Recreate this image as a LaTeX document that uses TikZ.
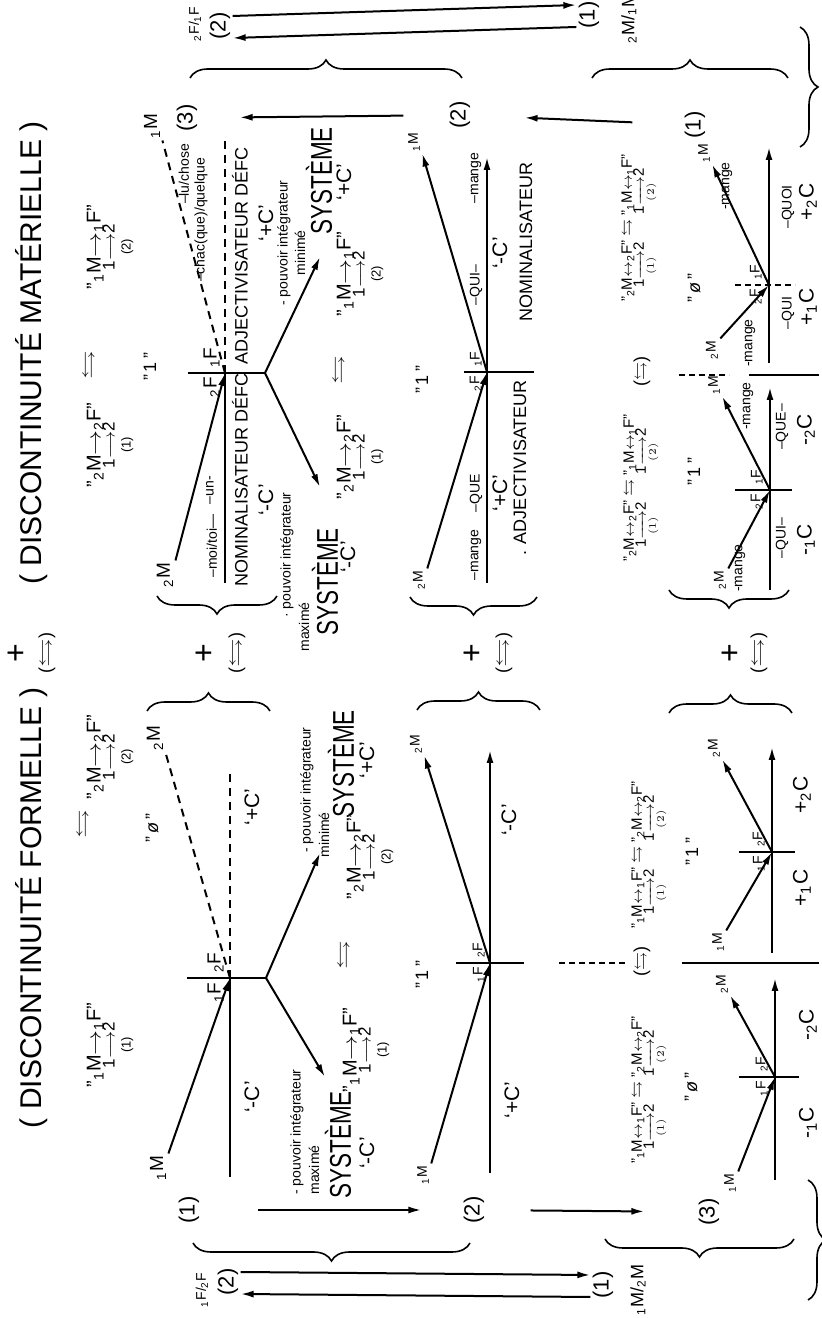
\documentclass[tikz,border=0pt]{standalone}
\usepackage{amsmath,amssymb}
\usepackage{fontspec}
\setmainfont{Liberation Sans}
\usetikzlibrary{calc,arrows.meta,decorations.pathreplacing,positioning}

\newcommand{\Mf}[1]{\textsubscript{#1}M}
\newcommand{\Ff}[1]{\textsubscript{#1}F}
\newcommand{\lr}{\scalebox{1.6}[1]{$\leftrightarrows$}}
\newcommand{\syst}{\scalebox{0.75}[1]{SYSTÈME}}
\newcommand{\rel}[3]{"\Mf{#1}\scalebox{1.25}[1]{$\rightarrow$}\Ff{#2}"\\[-3pt]{\fontsize{8.5}{8.5}\selectfont 1$\longrightarrow$2}\\[-2pt]{\fontsize{6.5}{6.5}\selectfont (#3)}}
\newcommand{\relb}[2]{"\Mf{#1}$\leftrightarrow$\Ff{#1}" $\leftrightarrows$ "\Mf{#2}$\leftrightarrow$\Ff{#2}"\\[-2pt]
  1$\xrightarrow[(1)]{}$2\hspace{14pt}1$\xrightarrow[(2)]{}$2}

\tikzset{
  every node/.style={inner sep=1pt},
  ttl/.style={font=\fontsize{15}{15}\selectfont},
  sys/.style={font=\fontsize{15}{15}\selectfont},
  cat/.style={font=\fontsize{9}{9}\selectfont},
  sml/.style={font=\fontsize{7}{7}\selectfont},
  cv/.style={font=\fontsize{10.5}{11}\selectfont},
  num/.style={font=\fontsize{11}{11}\selectfont},
  val/.style={font=\fontsize{9}{9}\selectfont},
  pls/.style={font=\fontsize{16}{16}\selectfont},
  fml/.style={align=center, font=\fontsize{10}{10}\selectfont},
  fmlb/.style={align=center, font=\fontsize{7.5}{8}\selectfont},
  mlab/.style={font=\fontsize{9.5}{10}\selectfont},
  ax/.style={line width=1pt},
  arr/.style={ax, -{Latex[length=6.5pt,width=3.5pt]}},
  dsh/.style={ax, dash pattern=on 4pt off 3pt},
  brc/.style={decorate, decoration={brace, amplitude=9pt}, line width=0.8pt},
}

\begin{document}
\begin{tikzpicture}[x=0.5pt,y=0.5pt,rotate=90,transform shape]
\useasboundingbox (0,0) rectangle (1318,822);

% titles
\node[ttl] (tF) at (410,790) {( DISCONTINUITÉ FORMELLE )};
\node[ttl] (tM) at (965,790) {( DISCONTINUITÉ MATÉRIELLE )};
\node[pls] (p0) at (665,805) {+};
\node[val] (q0) at (665,775) {(\lr)};
\node[pls] (p1) at (665,617) {+};
\node[val] (q1) at (665,585) {(\lr)};
\node[pls] (p2) at (665,349) {+};
\node[val] (q2) at (665,318) {(\lr)};
\node[pls] (p3) at (665,91) {+};
\node[val] (q3) at (665,63) {(\lr)};

% ---- row 1, formelle
\coordinate (o1F) at (340,592);
\node[fml] (r1Fa) at (273,712) {\rel{1}{1}{1}};
\node[val] (x1F) at (494,738) {\lr};
\node[fml] (r1Fb) at (561,712) {\rel{2}{2}{2}};
\node[val] (z1F) at (490,670) {"\,\textit{\o}\,"};
\node[mlab] (m1Fa) at (150,664) {\Mf1};
\node[mlab] (m1Fb) at (580,667) {\Mf2};
\node[mlab, anchor=south east] (f1Fa) at (338,596) {\Ff1};
\node[mlab, anchor=south west] (f1Fb) at (343,596) {\Ff2};
\coordinate (t1F) at (340,635);
\coordinate (v1F) at (340,556);
\coordinate (s1F) at (141,592);
\coordinate (e1F) at (548,592);
\draw[ax] (t1F) -- (v1F);
\draw[ax] (s1F) -- (o1F);
\draw[arr] (m1Fa.south east) -- (o1F);
\draw[dsh] (o1F) -- (m1Fb.south west);
\draw[dsh] (o1F) -- (e1F);
\node[cv] (c1Fa) at (221,570) {‘-C’};
\node[cv] (c1Fb) at (511,570) {‘+C’};

\node[sml] (g1Fa) at (186,525) {- pouvoir intégrateur};
\node[sml] (h1Fa) at (148,508) {maximé};
\node[sys] (y1Fa) at (173,484) {\syst};
\node[cv] (k1Fa) at (165,455) {‘-C’};
\node[fml] (r1Fc) at (268,456) {\rel{1}{1}{1}};
\node[val] (x1Fc) at (363,477) {\lr};
\node[fml] (r1Fd) at (461,452) {\rel{2}{2}{2}};
\node[sml] (g1Fb) at (528,515) {- pouvoir intégrateur};
\node[sml] (h1Fb) at (483,498) {minimé};
\node[sys] (y1Fb) at (554,481) {\syst};
\node[cv] (k1Fb) at (558,455) {‘+C’};
\coordinate (a1Fa) at (241,497);
\coordinate (a1Fb) at (465,502);
\draw[arr] (v1F) -- (a1Fa);
\draw[arr] (v1F) -- (a1Fb);

% ---- row 1, materielle
\coordinate (o1M) at (945,597);
\node[fml] (r1Ma) at (873,712) {\rel{2}{2}{1}};
\node[val] (x1M) at (953,732) {\lr};
\node[fml] (r1Mb) at (1071,712) {\rel{1}{1}{2}};
\node[val] (z1M) at (951,672) {"\,1\,"};
\node[mlab] (m1Ma) at (743,657) {\Mf2};
\node[mlab] (m1Mb) at (1192,670) {\Mf1};
\node[mlab, anchor=south east] (f1Ma) at (943,600) {\Ff2};
\node[mlab, anchor=south west] (f1Mb) at (948,600) {\Ff1};
\coordinate (t1M) at (945,634);
\coordinate (v1M) at (945,557);
\coordinate (s1M) at (735,597);
\coordinate (e1M) at (1180,597);
\draw[ax] (t1M) -- (v1M);
\draw[ax] (s1M) -- (o1M);
\draw[arr] (m1Ma.south east) -- (o1M);
\draw[dsh] (o1M) -- (m1Mb.south west);
\draw[dsh] (o1M) -- (e1M);
\node[sml] (u1Ma) at (772,610) {--moi/toi—};
\node[sml] (u1Mb) at (828,612) {--un-};
\node[sml] (u1Mc) at (1098,621) {--chac(que)/quelque};
\node[sml] (u1Md) at (1144,638) {--lu/chose};
\node[cat] (n1M) at (838,582) {NOMINALISATEUR DÉFC};
\node[cat] (d1M) at (1062,582) {ADJECTIVISATEUR DÉFC};
\node[cv] (c1Ma) at (818,556) {‘-C’};
\node[cv] (c1Mb) at (1095,556) {‘+C’};

\node[sml] (g1Ma) at (763,535) {· pouvoir intégrateur};
\node[sml] (h1Ma) at (691,518) {maximé};
\node[sys] (y1Ma) at (736,497) {\syst};
\node[cv] (k1Ma) at (761,474) {‘-C’};
\node[fml] (r1Mc) at (861,462) {\rel{2}{2}{1}};
\node[val] (x1Mc) at (948,482) {\lr};
\node[fml] (r1Md) at (1044,462) {\rel{1}{1}{2}};
\node[sml] (g1Mb) at (1075,538) {- pouvoir intégrateur};
\node[sml] (h1Mb) at (1065,522) {minimé};
\node[sys] (y1Mb) at (1137,503) {\syst};
\node[cv] (k1Mb) at (1136,478) {‘+C’};
\coordinate (a1Ma) at (831,502);
\coordinate (a1Mb) at (1061,502);
\draw[arr] (v1M) -- (a1Ma);
\draw[arr] (v1M) -- (a1Mb);

% ---- row 2, formelle
\coordinate (o2F) at (355,332);
\node[val] (z2F) at (343,400) {"\,1\,"};
\node[sml, anchor=south east] (f2Fa) at (353,335) {\Ff1};
\node[sml, anchor=south west] (f2Fb) at (358,335) {\Ff2};
\node[sml] (m2Fa) at (143,399) {\Mf1};
\node[sml] (m2Fb) at (574,406) {\Mf2};
\coordinate (t2F) at (355,366);
\coordinate (v2F) at (355,298);
\coordinate (s2F) at (145,332);
\coordinate (e2F) at (568,332);
\draw[ax] (t2F) -- (v2F);
\draw[ax] (s2F) -- (o2F);
\draw[arr] (m2Fa.south east) -- (o2F);
\draw[arr] (o2F) -- (m2Fb.south west);
\draw[arr] (o2F) -- (e2F);
\node[cv] (c2Fa) at (218,310) {‘+C’};
\node[cv] (c2Fb) at (498,313) {‘-C’};

% ---- row 2, materielle
\coordinate (o2M) at (946,335);
\node[val] (z2M) at (938,400) {"\,1\,"};
\node[sml, anchor=south east] (f2Ma) at (944,338) {\Ff2};
\node[sml, anchor=south west] (f2Mb) at (949,338) {\Ff1};
\node[sml] (m2Ma) at (738,403) {\Mf2};
\node[sml] (m2Mb) at (1176,408) {\Mf1};
\coordinate (t2M) at (946,358);
\coordinate (v2M) at (946,288);
\coordinate (s2M) at (735,335);
\coordinate (e2M) at (1161,335);
\draw[ax] (t2M) -- (v2M);
\draw[ax] (s2M) -- (o2M);
\draw[arr] (m2Ma.south east) -- (o2M);
\draw[arr] (o2M) -- (m2Mb.south west);
\draw[arr] (o2M) -- (e2M);
\node[sml] (u2Ma) at (763,346) {--mange};
\node[sml] (u2Mb) at (825,346) {--QUE};
\node[sml] (u2Mc) at (1033,346) {--QUI--};
\node[sml] (u2Md) at (1140,346) {--mange};
\node[cv] (c2Ma) at (825,322) {‘+C’};
\node[cv] (c2Mb) at (1065,322) {‘-C’};
\node[cat] (d2M) at (850,302) {. ADJECTIVISATEUR};
\node[cat] (n2M) at (1076,296) {NOMINALISATEUR};

% ---- row 3, formelle
\node[fmlb] (r3Fa) at (228,172) {\relb{1}{2}};
\node[fmlb] (r3Fb) at (463,172) {\relb{1}{2}};
\node[val] (x3F) at (356,180) {($\leftrightarrows$)};
\node[val] (z3Fa) at (231,131) {"\,\textit{\o}\,"};
\node[val] (z3Fb) at (466,130) {"\,1\,"};
\coordinate (o3Fa) at (241,47);
\coordinate (o3Fb) at (466,50);
\node[sml, anchor=south east] (f3Fa) at (239,52) {\Ff1};
\node[sml, anchor=south west] (f3Fb) at (244,52) {\Ff2};
\node[sml, anchor=south east] (f3Fc) at (464,55) {\Ff1};
\node[sml, anchor=south west] (f3Fd) at (469,55) {\Ff2};
\node[sml] (m3Fa) at (135,92) {\Mf1};
\node[sml] (m3Fb) at (334,100) {\Mf2};
\node[sml] (m3Fc) at (376,104) {\Mf1};
\node[sml] (m3Fd) at (570,108) {\Mf2};
\coordinate (t3Fa) at (241,83);
\coordinate (v3Fa) at (241,23);
\coordinate (s3Fa) at (138,47);
\coordinate (e3Fa) at (340,47);
\coordinate (t3Fb) at (466,83);
\coordinate (v3Fb) at (466,27);
\coordinate (s3Fb) at (365,50);
\coordinate (e3Fb) at (571,50);
\draw[ax] (t3Fa) -- (v3Fa);
\draw[ax] (s3Fa) -- (o3Fa);
\draw[arr] (m3Fa.south east) -- (o3Fa);
\draw[arr] (o3Fa) -- (m3Fb.south west);
\draw[arr] (o3Fa) -- (e3Fa);
\draw[ax] (t3Fb) -- (v3Fb);
\draw[ax] (s3Fb) -- (o3Fb);
\draw[arr] (m3Fc.south east) -- (o3Fb);
\draw[arr] (o3Fb) -- (m3Fd.south west);
\draw[arr] (o3Fb) -- (e3Fb);
\node[cv] (c3Fa) at (195,14) {-\textsubscript{1}C};
\node[cv] (c3Fb) at (293,14) {-\textsubscript{2}C};
\node[cv] (c3Fc) at (430,20) {+\textsubscript{1}C};
\node[cv] (c3Fd) at (523,20) {+\textsubscript{2}C};
\coordinate (w3Fa) at (355,263);
\coordinate (w3Fb) at (355,197);
\coordinate (w3Fc) at (355,140);
\coordinate (w3Fd) at (355,3);
\draw[ax, densely dashed] (w3Fa) -- (w3Fb);
\draw[ax] (w3Fc) -- (w3Fd);

% ---- row 3, materielle
\node[fmlb] (r3Ma) at (830,180) {\relb{2}{1}};
\node[fmlb] (r3Mb) at (1090,182) {\relb{2}{1}};
\node[val] (x3M) at (946,180) {($\leftrightarrows$)};
\node[val] (z3Ma) at (846,128) {"\,1\,"};
\node[val] (z3Mb) at (1030,128) {"\,\textit{\o}\,"};
\coordinate (o3Ma) at (828,52);
\coordinate (o3Mb) at (1033,53);
\node[sml, anchor=south east] (f3Ma) at (826,57) {\Ff2};
\node[sml, anchor=south west] (f3Mb) at (831,57) {\Ff1};
\node[sml, anchor=south east] (f3Mc) at (1031,58) {\Ff2};
\node[sml, anchor=south west] (f3Md) at (1036,58) {\Ff1};
\node[sml] (m3Ma) at (738,102) {\Mf2};
\node[sml] (m3Mb) at (933,108) {\Mf1};
\node[sml] (m3Mc) at (968,110) {\Mf2};
\node[sml] (m3Md) at (1165,118) {\Mf1};
\coordinate (t3Ma) at (828,87);
\coordinate (v3Ma) at (828,30);
\coordinate (s3Ma) at (728,52);
\coordinate (e3Ma) at (931,52);
\coordinate (t3Mb) at (1033,87);
\coordinate (v3Mb) at (1033,27);
\coordinate (s3Mb) at (955,53);
\coordinate (e3Mb) at (1171,53);
\draw[ax] (t3Ma) -- (v3Ma);
\draw[ax] (s3Ma) -- (o3Ma);
\draw[arr] (m3Ma.south east) -- (o3Ma);
\draw[arr] (o3Ma) -- (m3Mb.south west);
\draw[arr] (o3Ma) -- (e3Ma);
\draw[ax, densely dashed] (t3Mb) -- (v3Mb);
\draw[ax] (s3Mb) -- (o3Mb);
\draw[arr] (m3Mc.south east) -- (o3Mb);
\draw[arr] (o3Mb) -- (m3Md.south west);
\draw[arr] (o3Mb) -- (e3Mb);
\node[sml] (u3Ma) at (750,82) {-mange};
\node[sml] (u3Mb) at (912,74) {-mange};
\node[sml] (u3Mc) at (975,72) {-mange};
\node[sml] (u3Md) at (1132,95) {-mange};
\node[sml] (u3Me) at (780,40) {--QUI--};
\node[sml] (u3Mf) at (891,40) {--QUE--};
\node[sml] (u3Mg) at (1005,34) {--QUI};
\node[sml] (u3Mh) at (1111,34) {--QUOI};
\node[cv] (c3Ma) at (778,16) {-\textsubscript{1}C};
\node[cv] (c3Mb) at (888,16) {-\textsubscript{2}C};
\node[cv] (c3Mc) at (1011,14) {+\textsubscript{1}C};
\node[cv] (c3Md) at (1116,14) {+\textsubscript{2}C};
\coordinate (w3Ma) at (943,143);
\coordinate (w3Mb) at (943,93);
\coordinate (w3Mc) at (943,73);
\coordinate (w3Md) at (943,3);
\draw[ax, densely dashed] (w3Ma) -- (w3Mb);
\draw[ax] (w3Mc) -- (w3Md);

% braces towards the + signs
\draw[brc] (607,675) -- (607,552);
\draw[brc] (608,405) -- (608,282);
\draw[brc] (605,153) -- (605,30);
\draw[brc] (722,545) -- (722,665);
\draw[brc] (721,285) -- (721,412);
\draw[brc] (728,33) -- (728,153);

% ---- left column
\node[num] (cL1) at (108,633) {(1)};
\node[num] (cL2) at (108,348) {(2)};
\node[num] (cL3) at (106,113) {(3)};
\draw[arr, shorten <=28pt, shorten >=20pt] (cL1) -- (cL2);
\draw[arr, shorten <=22pt, shorten >=26pt] (cL2) -- (cL3);
\draw[brc] (75,352) -- (75,629);
\draw[brc] (79,28) -- (79,217);
\draw[brc] (138,14) -- (18,14);
\node[num] (dL2) at (36,594) {(2)};
\node[sml] (eL2) at (28,620) {\Ff1/\Ff2};
\node[num] (dL1) at (33,219) {(1)};
\node[val] (eL1) at (28,184) {\Mf1/\Mf2};
\draw[arr] ([xshift=-6pt]dL1.north) -- ([xshift=-6pt]dL2.south);
\draw[arr] ([xshift=5pt]dL2.south) -- ([xshift=5pt]dL1.north);

% ---- right column
\node[num] (cR3) at (1200,635) {(3)};
\node[num] (cR2) at (1203,362) {(2)};
\node[num] (cR1) at (1193,127) {(1)};
\draw[arr, shorten <=22pt, shorten >=20pt] (cR2) -- (cR3);
\draw[arr, shorten <=25pt, shorten >=26pt] (cR1) -- (cR2);
\draw[brc] (1240,632) -- (1240,360);
\draw[brc] (1240,230) -- (1240,34);
\draw[brc] (1291,22) -- (1171,22);
\node[num] (dR2) at (1292,602) {(2)};
\node[sml] (eR2) at (1294,627) {\Ff2/\Ff1};
\node[num] (dR1) at (1303,233) {(1)};
\node[val] (eR1) at (1300,193) {\Mf2/\Mf1};
\draw[arr] ([xshift=-6pt]dR1.north) -- ([xshift=-6pt]dR2.south);
\draw[arr] ([xshift=5pt]dR2.south) -- ([xshift=5pt]dR1.north);
\end{tikzpicture}
\end{document}
